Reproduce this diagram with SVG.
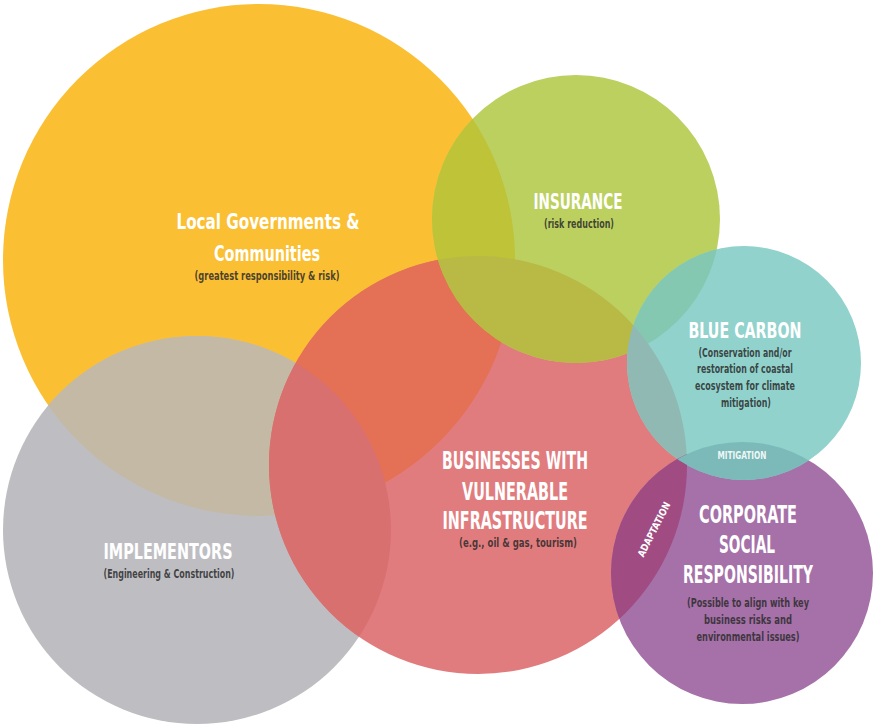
<svg xmlns="http://www.w3.org/2000/svg" width="874" height="724" viewBox="0 0 874 724">
<style>
.t{font-family:"Liberation Sans Narrow","DejaVu Sans Condensed","Liberation Sans",sans-serif;fill:#ffffff;text-anchor:middle;font-weight:bold}
.s{font-family:"Liberation Sans Narrow","DejaVu Sans Condensed","Liberation Sans",sans-serif;fill:#2b2b2b;fill-opacity:0.85;text-anchor:middle;font-size:12px;font-weight:bold}
</style>
<defs>
<clipPath id="cY"><circle cx="259" cy="260" r="256"/></clipPath>
<clipPath id="cG"><circle cx="197" cy="530" r="194"/></clipPath>
<clipPath id="cR"><circle cx="478" cy="465" r="209"/></clipPath>
<clipPath id="cN"><circle cx="576" cy="219" r="144"/></clipPath>
<clipPath id="cT"><circle cx="744" cy="363" r="117"/></clipPath>
<clipPath id="cP"><circle cx="742" cy="573" r="131"/></clipPath>
</defs>
<rect width="874" height="724" fill="#ffffff"/>
<g id="shapes">
<circle cx="259" cy="260" r="256" fill="#FBBF34"/>
<circle cx="197" cy="530" r="194" fill="#BEBEC2"/>
<circle cx="478" cy="465" r="209" fill="#E17C7E"/>
<circle cx="576" cy="219" r="144" fill="#BCD060"/>
<circle cx="742" cy="573" r="131" fill="#A571A8"/>
<circle cx="744" cy="363" r="117" fill="#91D2CC"/>
<!-- overlaps -->
<circle cx="197" cy="530" r="194" fill="#C3B9A5" clip-path="url(#cY)"/>
<circle cx="478" cy="465" r="209" fill="#E47056" clip-path="url(#cY)"/>
<circle cx="478" cy="465" r="209" fill="#D97070" clip-path="url(#cG)"/>
<circle cx="576" cy="219" r="144" fill="#BEC337" clip-path="url(#cY)"/>
<circle cx="576" cy="219" r="144" fill="#B9B946" clip-path="url(#cR)"/>
<circle cx="744" cy="363" r="117" fill="#84C8B2" clip-path="url(#cN)"/>
<circle cx="744" cy="363" r="117" fill="#91B9B4" clip-path="url(#cR)"/>
<circle cx="742" cy="573" r="131" fill="#A04B82" clip-path="url(#cR)"/>
<circle cx="744" cy="363" r="117" fill="#7BBAB8" clip-path="url(#cP)"/>
</g>
<g id="connectors"></g>
<g id="local-governments">
<text class="t" x="268" y="229" font-size="21" textLength="183" lengthAdjust="spacingAndGlyphs">Local Governments &amp;</text>
<text class="t" x="267" y="261" font-size="21" textLength="106" lengthAdjust="spacingAndGlyphs">Communities</text>
<text class="s" x="267" y="280" textLength="145" lengthAdjust="spacingAndGlyphs">(greatest responsibility &amp; risk)</text>
</g>
<g id="insurance">
<text class="t" x="578" y="209" font-size="22" textLength="89" lengthAdjust="spacingAndGlyphs">INSURANCE</text>
<text class="s" x="579" y="228" textLength="70" lengthAdjust="spacingAndGlyphs">(risk reduction)</text>
</g>
<g id="blue-carbon">
<text class="t" x="745" y="338" font-size="22" textLength="113" lengthAdjust="spacingAndGlyphs">BLUE CARBON</text>
<text class="s" x="745" y="357" textLength="93" lengthAdjust="spacingAndGlyphs">(Conservation and/or</text>
<text class="s" x="745" y="373" textLength="96" lengthAdjust="spacingAndGlyphs">restoration of coastal</text>
<text class="s" x="745" y="390" textLength="100" lengthAdjust="spacingAndGlyphs">ecosystem for climate</text>
<text class="s" x="746" y="407" textLength="50" lengthAdjust="spacingAndGlyphs">mitigation)</text>
</g>
<g id="mitigation">
<text class="t" x="742" y="459" font-size="10" fill-opacity="0.9" textLength="49" lengthAdjust="spacingAndGlyphs">MITIGATION</text>
</g>
<g id="adaptation">
<text class="t" x="0" y="0" font-size="10" transform="translate(657,531) rotate(-63)" textLength="60" lengthAdjust="spacingAndGlyphs">ADAPTATION</text>
</g>
<g id="csr">
<text class="t" x="748" y="523" font-size="25" textLength="98" lengthAdjust="spacingAndGlyphs">CORPORATE</text>
<text class="t" x="747" y="553" font-size="25" textLength="56" lengthAdjust="spacingAndGlyphs">SOCIAL</text>
<text class="t" x="748" y="583" font-size="25" textLength="130" lengthAdjust="spacingAndGlyphs">RESPONSIBILITY</text>
<text class="s" x="748" y="607" textLength="122" lengthAdjust="spacingAndGlyphs">(Possible to align with key</text>
<text class="s" x="748" y="624" textLength="88" lengthAdjust="spacingAndGlyphs">business risks and</text>
<text class="s" x="748" y="641" textLength="103" lengthAdjust="spacingAndGlyphs">environmental issues)</text>
</g>
<g id="businesses">
<text class="t" x="515" y="469" font-size="24" textLength="146" lengthAdjust="spacingAndGlyphs">BUSINESSES WITH</text>
<text class="t" x="515" y="500" font-size="24" textLength="106" lengthAdjust="spacingAndGlyphs">VULNERABLE</text>
<text class="t" x="515" y="529" font-size="24" textLength="145" lengthAdjust="spacingAndGlyphs">INFRASTRUCTURE</text>
<text class="s" x="518" y="547" textLength="118" lengthAdjust="spacingAndGlyphs">(e.g., oil &amp; gas, tourism)</text>
</g>
<g id="implementors">
<text class="t" x="168" y="559" font-size="22" textLength="129" lengthAdjust="spacingAndGlyphs">IMPLEMENTORS</text>
<text class="s" x="169" y="578" textLength="131" lengthAdjust="spacingAndGlyphs">(Engineering &amp; Construction)</text>
</g>
</svg>
